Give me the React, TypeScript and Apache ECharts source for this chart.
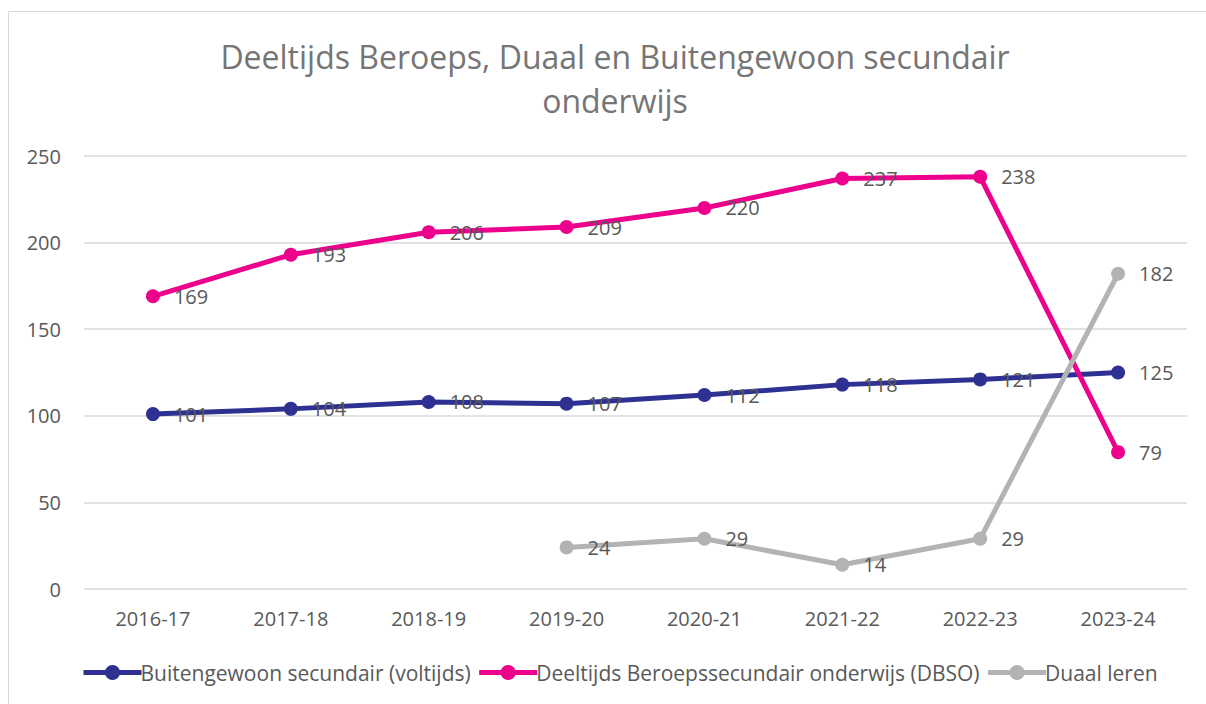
import React, { useEffect, useRef } from "react";
import * as echarts from "echarts";

const categories = ["2016-17", "2017-18", "2018-19", "2019-20", "2020-21", "2021-22", "2022-23", "2023-24"];
const buitengewoon = [101, 104, 108, 107, 112, 118, 121, 125];
const dbso = [169, 193, 206, 209, 220, 237, 238, 79];
const duaal = [null, null, null, 24, 29, 14, 29, 182];
const seriesNames = [
  "Buitengewoon secundair (voltijds)",
  "Deeltijds Beroepssecundair onderwijs (DBSO)",
  "Duaal leren",
];
const colors = ["#2E3192", "#EC008C", "#B3B3B6"];
const titleText = "Deeltijds Beroeps, Duaal en Buitengewoon secundair\nonderwijs";

const FONT = "'Open Sans', 'Noto Sans', sans-serif";

export default function App() {
  const ref = useRef<HTMLDivElement>(null);
  useEffect(() => {
    if (!ref.current) return;
    const chart = echarts.init(ref.current, null, { renderer: "svg" });
    const mk = (name: string, data: (number | null)[], color: string) => ({
      name,
      type: "line",
      data,
      color,
      symbol: "circle",
      symbolSize: 14,
      lineStyle: { width: 5, color },
      itemStyle: { color },
      connectNulls: false,
      label: {
        show: true,
        position: "right",
        distance: 14,
        color: "#595959",
        fontSize: 20,
        fontFamily: FONT,
      },
    });
    chart.setOption({
      animation: false,
      backgroundColor: "#ffffff",
      graphic: [
        {
          type: "rect",
          shape: { x: 8.5, y: 11.5, width: 1210, height: 700 },
          style: { fill: "none", stroke: "#d9d9d9", lineWidth: 1 },
          silent: true,
        },
      ],
      title: {
        text: titleText,
        left: 610,
        textAlign: "center",
        top: 29,
        textStyle: {
          color: "#757575",
          fontSize: 32,
          fontWeight: "normal",
          fontFamily: FONT,
          lineHeight: 44,
        },
      },
      legend: {
        top: 657,
        left: 76,
        itemWidth: 58,
        itemHeight: 19,
        itemGap: 6,
        lineStyle: { width: 5 },
        textStyle: { color: "#595959", fontSize: 21, fontFamily: FONT, padding: [0, 0, 0, -6] },
        data: seriesNames,
      },
      grid: { left: 84, right: 19, top: 156, bottom: 115, containLabel: false },
      xAxis: {
        type: "category",
        data: categories,
        boundaryGap: true,
        axisLine: { show: false },
        axisTick: { show: false },
        axisLabel: { color: "#595959", fontSize: 20, fontFamily: FONT, margin: 19 },
      },
      yAxis: {
        type: "value",
        min: 0,
        max: 250,
        interval: 50,
        axisLine: { show: false },
        axisTick: { show: false },
        splitLine: { lineStyle: { color: "#d9d9d9", width: 1.5 } },
        axisLabel: { color: "#595959", fontSize: 20, fontFamily: FONT, margin: 23 },
      },
      series: [
        mk(seriesNames[0], buitengewoon, colors[0]),
        mk(seriesNames[1], dbso, colors[1]),
        mk(seriesNames[2], duaal, colors[2]),
      ],
    });
    return () => chart.dispose();
  }, []);
  return (
    <div
      ref={ref}
      style={{ position: "absolute", left: 0, top: 0, width: 1206, height: 704 }}
    />
  );
}
